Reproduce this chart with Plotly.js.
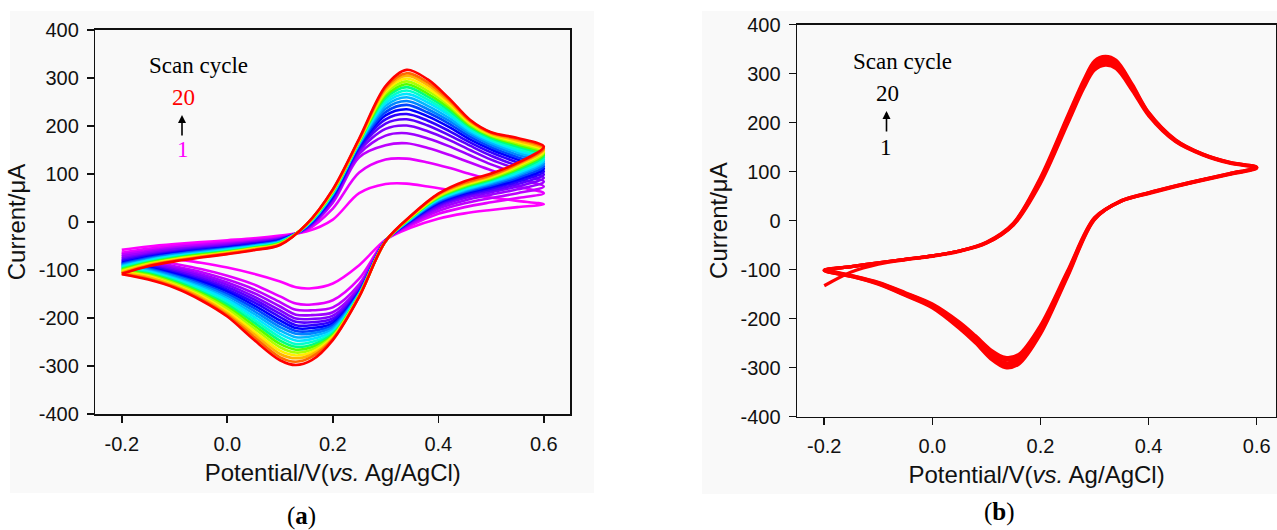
<!DOCTYPE html>
<html><head><meta charset="utf-8">
<script src="https://cdn.plot.ly/plotly-3.0.1.min.js"></script>
<style>html,body{margin:0;padding:0;background:#fff;overflow:hidden}#chart{width:1277px;height:530px}</style>
</head><body><div id="chart"></div>
<script>
// ---------- Panel (a): 20 scan cycles ----------
const potentialForwardA = [-0.2, -0.15, -0.1, -0.05, 0, 0.05, 0.1, 0.15, 0.2, 0.25, 0.3, 0.34, 0.38, 0.42, 0.46, 0.5, 0.55, 0.6];
const potentialReverseA = [0.55, 0.5, 0.45, 0.4, 0.35, 0.3, 0.25, 0.2, 0.16, 0.13, 0.1, 0.05, 0, -0.05, -0.1, -0.15, -0.2];

const cycle01 = [-58, -51, -46, -42, -38, -34, -28, -20, 5, 60, 79, 80, 74, 67, 58, 51, 44, 37, 31, 25, 18, 7, -11, -37, -90, -128, -138, -136, -124, -108, -95, -85, -77, -69, -64];
const cycle02 = [-64, -56, -50, -46, -41, -37, -31, -17, 28, 103, 130, 132, 124, 113, 100, 88, 74, 60, 50, 41, 31, 17, -6, -38, -118, -163, -172, -170, -155, -130, -112, -98, -87, -77, -68];
const cycle03 = [-68, -60, -53, -48, -44, -39, -33, -15, 40, 135, 160, 164, 154, 140, 124, 108, 90, 74, 60, 50, 39, 23, -3, -38, -130, -178, -184, -183, -167, -140, -120, -104, -92, -81, -72];
const cycle04 = [-72, -63, -56, -51, -46, -41, -34, -14, 45, 142, 180, 185, 174, 158, 139, 120, 101, 84, 68, 57, 45, 28, -1, -38, -136, -188, -194, -193, -176, -148, -126, -109, -96, -84, -76];
const cycle05 = [-76, -66, -58, -53, -48, -42, -35, -13, 48, 148, 194, 201, 189, 171, 150, 130, 110, 92, 74, 62, 50, 32, 1, -39, -140, -195, -202, -201, -184, -155, -131, -113, -99, -87, -79];
const cycle06 = [-79, -69, -61, -55, -50, -44, -36, -12, 50, 152, 205, 214, 201, 181, 159, 138, 117, 99, 79, 66, 54, 35, 3, -39, -143, -201, -209, -208, -191, -161, -136, -117, -102, -90, -82];
const cycle07 = [-82, -71, -63, -57, -52, -45, -37, -11, 52, 155, 214, 225, 211, 190, 166, 145, 124, 105, 84, 70, 57, 38, 4, -39, -145, -206, -215, -215, -198, -167, -141, -121, -105, -92, -85];
const cycle08 = [-85, -73, -65, -59, -53, -47, -38, -10, 54, 158, 222, 235, 220, 198, 172, 151, 130, 111, 88, 73, 60, 40, 5, -39, -147, -211, -221, -221, -205, -173, -145, -124, -108, -95, -87];
const cycle09 = [-87, -75, -67, -60, -55, -48, -39, -10, 56, 160, 229, 244, 228, 205, 178, 156, 135, 116, 92, 76, 62, 42, 6, -39, -148, -215, -227, -227, -212, -179, -150, -128, -111, -97, -89];
const cycle10 = [-89, -77, -68, -62, -56, -49, -40, -9, 57, 162, 236, 252, 235, 211, 183, 161, 140, 121, 96, 79, 64, 44, 7, -39, -149, -219, -232, -233, -219, -185, -154, -131, -113, -99, -91];
const cycle11 = [-91, -79, -70, -63, -57, -50, -41, -8, 59, 164, 242, 260, 242, 217, 187, 165, 145, 126, 99, 82, 66, 46, 8, -40, -150, -223, -238, -240, -226, -191, -159, -135, -116, -101, -93];
const cycle12 = [-93, -80, -71, -65, -58, -51, -42, -8, 60, 165, 248, 267, 249, 223, 191, 169, 149, 130, 102, 84, 68, 47, 9, -40, -151, -227, -244, -247, -233, -197, -163, -138, -118, -103, -95];
const cycle13 = [-95, -82, -73, -66, -60, -52, -42, -7, 61, 166, 253, 274, 255, 228, 195, 172, 153, 134, 105, 86, 70, 49, 10, -40, -152, -230, -250, -254, -240, -203, -168, -142, -121, -105, -97];
const cycle14 = [-97, -84, -74, -67, -61, -53, -43, -7, 62, 167, 258, 281, 261, 233, 198, 175, 157, 138, 108, 88, 72, 50, 11, -40, -152, -233, -256, -260, -247, -209, -172, -145, -123, -107, -99];
const cycle15 = [-99, -85, -76, -68, -62, -54, -44, -6, 63, 168, 263, 287, 267, 238, 201, 178, 161, 142, 111, 90, 74, 52, 11, -40, -153, -236, -261, -266, -254, -215, -177, -148, -126, -109, -101];
const cycle16 = [-101, -87, -77, -70, -63, -55, -45, -6, 64, 169, 268, 293, 273, 243, 204, 180, 164, 145, 114, 92, 76, 53, 12, -40, -154, -238, -266, -272, -261, -221, -181, -151, -128, -111, -103];
const cycle17 = [-103, -88, -78, -71, -64, -56, -46, -6, 65, 170, 272, 299, 279, 247, 207, 182, 167, 148, 117, 94, 78, 55, 13, -40, -154, -240, -271, -278, -268, -227, -186, -154, -131, -113, -105];
const cycle18 = [-105, -89, -80, -72, -65, -57, -46, -5, 66, 171, 276, 305, 285, 251, 209, 184, 170, 151, 119, 96, 80, 56, 14, -40, -155, -242, -276, -284, -275, -233, -190, -157, -133, -115, -107];
const cycle19 = [-107, -91, -81, -73, -66, -58, -47, -5, 67, 172, 280, 310, 291, 255, 211, 186, 173, 154, 121, 98, 82, 58, 14, -40, -155, -244, -281, -291, -282, -239, -194, -160, -135, -118, -108];
const cycle20 = [-108, -92, -82, -74, -67, -59, -48, -5, 68, 174, 283, 317, 297, 258, 213, 187, 175, 157, 123, 101, 85, 59, 15, -40, -156, -246, -288, -298, -288, -245, -197, -163, -137, -120, -109];

const cyclesA = [cycle01, cycle02, cycle03, cycle04, cycle05, cycle06, cycle07, cycle08, cycle09, cycle10,
                 cycle11, cycle12, cycle13, cycle14, cycle15, cycle16, cycle17, cycle18, cycle19, cycle20];
const cycleColorsA = ['#ff00ff', '#e600ff', '#bf00ff', '#9f00ff', '#8000ff', '#5a00ff', '#2e00ff', '#0000ff', '#0044ff', '#0084ff',
                      '#00b8ff', '#00e6ff', '#00ffcc', '#00ff80', '#55ff00', '#aaff00', '#ffee00', '#ffb400', '#ff6a00', '#ff0000'];

// ---------- Panel (b): 20 nearly overlapping scan cycles (band read at cycles 1, 5, 10, 15, 20) ----------
const potentialForwardB = [-0.2, -0.15, -0.1, -0.05, 0, 0.05, 0.1, 0.15, 0.2, 0.25, 0.28, 0.3, 0.32, 0.34, 0.37, 0.4, 0.45, 0.5, 0.55, 0.6];
const potentialReverseB = [0.55, 0.5, 0.45, 0.4, 0.35, 0.3, 0.25, 0.2, 0.16, 0.135, 0.11, 0.08, 0.05, 0, -0.05, -0.1, -0.15, -0.2];
const cycleB01 = [-133, -105, -89, -80, -73, -63, -46, -9, 76, 197, 270, 307, 317, 310, 265, 214, 161, 134, 117, 107, 94, 82, 69, 55, 40, 6, -103, -214, -273, -279, -265, -235, -207, -170, -147, -126, -112, -100];
const cycleB05 = [-101, -94, -87, -79, -72, -62, -46, -8, 79, 201, 275, 312, 322, 315, 269, 216, 162, 135, 118, 108, 95, 83, 70, 56, 40, 5, -106, -219, -278, -284, -270, -239, -211, -172, -148, -127, -112, -101];
const cycleB10 = [-101, -94, -86, -79, -72, -62, -45, -7, 82, 205, 279, 317, 327, 319, 272, 218, 163, 135, 118, 108, 95, 83, 70, 56, 40, 4, -109, -223, -283, -290, -275, -243, -214, -174, -150, -128, -113, -101];
const cycleB15 = [-102, -94, -86, -79, -72, -62, -45, -6, 85, 209, 283, 322, 331, 323, 275, 220, 164, 136, 119, 109, 96, 84, 71, 57, 41, 3, -112, -228, -288, -295, -280, -247, -217, -176, -152, -129, -114, -102];
const cycleB20 = [-102, -94, -86, -79, -72, -62, -44, -5, 88, 213, 287, 326, 335, 327, 278, 221, 165, 136, 119, 109, 96, 84, 71, 57, 41, 2, -115, -232, -293, -300, -284, -250, -220, -178, -153, -130, -114, -102];
const cyclesB = [cycleB01, cycleB05, cycleB10, cycleB15, cycleB20];

// ---------- Ticks / labels ----------
const xTickVals = [-0.2, 0, 0.2, 0.4, 0.6];
const xTickText = ['-0.2', '0.0', '0.2', '0.4', '0.6'];
const yTickVals = [-400, -300, -200, -100, 0, 100, 200, 300, 400];
const yTickText = ['-400', '-300', '-200', '-100', '0', '100', '200', '300', '400'];
const xTitle = 'Potential/V(<i>vs.</i> Ag/AgCl)';
const yTitle = 'Current/\u03bcA';

const W = 1277, H = 530;
const px = v => v / W;
const py = v => 1 - v / H;

const potA = potentialForwardA.concat(potentialReverseA);
const potB = potentialForwardB.concat(potentialReverseB);

const traces = [];
cyclesA.forEach((ys, i) => {
  traces.push({x: potA, y: ys, type: 'scatter', mode: 'lines', xaxis: 'x', yaxis: 'y',
    line: {color: cycleColorsA[i], width: 2.6, shape: 'spline', smoothing: 0.9},
    name: 'Cycle ' + (i + 1), showlegend: false, hoverinfo: 'skip'});
});
cyclesB.forEach((ys, i) => {
  traces.push({x: potB, y: ys, type: 'scatter', mode: 'lines', xaxis: 'x2', yaxis: 'y2',
    line: {color: '#ff0000', width: 3.2, shape: 'spline', smoothing: 0.9},
    showlegend: false, hoverinfo: 'skip'});
});

const tickFont = {family: 'Liberation Sans, Arial, sans-serif', size: 20, color: '#111'};
const titleFont = {family: 'Liberation Sans, Arial, sans-serif', size: 24, color: '#111'};
function xAxis(domain, range, anchor) {
  return {domain, range, anchor, showline: true, linecolor: '#111', linewidth: 1.6, mirror: true,
    ticks: 'outside', ticklen: 7, tickwidth: 1.6, tickcolor: '#111', tickvals: xTickVals, ticktext: xTickText,
    tickfont: tickFont, showgrid: false, zeroline: false, automargin: false, ticklabelstandoff: 4,
    title: {text: xTitle, font: titleFont, standoff: 10}};
}
function yAxis(domain, anchor) {
  return {domain, range: [-400, 400], anchor, showline: true, linecolor: '#111', linewidth: 1.6, mirror: true,
    ticks: 'outside', ticklen: 7, tickwidth: 1.6, tickcolor: '#111', tickvals: yTickVals, ticktext: yTickText,
    tickfont: tickFont, showgrid: false, zeroline: false, automargin: false, ticklabelstandoff: 4,
    title: {text: yTitle, font: titleFont, standoff: 6}};
}

const serif = 'Liberation Serif, Times New Roman, serif';
const ann = (x, y, text, size, color, extra) => Object.assign({xref: 'paper', yref: 'paper', x: px(x), y: py(y), text,
  showarrow: false, xanchor: 'center', yanchor: 'middle', font: {family: serif, size, color}}, extra || {});
const arrow = (x, yHead, yTail) => ({xref: 'paper', yref: 'paper', x: px(x), y: py(yHead), text: '', showarrow: true,
  ax: 0, ay: yTail - yHead, arrowhead: 2, arrowsize: 1, arrowwidth: 1.6, arrowcolor: '#000'});

const layout = {
  width: W, height: H, margin: {l: 0, r: 0, t: 0, b: 0},
  paper_bgcolor: '#ffffff', plot_bgcolor: 'rgba(0,0,0,0)', showlegend: false,
  xaxis: xAxis([px(95.4), px(570.2)], [-0.25, 0.65], 'y'),
  yaxis: yAxis([py(414), py(30)], 'x'),
  xaxis2: xAxis([px(797.2), px(1276)], [-0.25, 0.6357], 'y2'),
  yaxis2: yAxis([py(416.6), py(24.6)], 'x2'),
  shapes: [
    {type: 'rect', xref: 'paper', yref: 'paper', x0: px(10), x1: px(594), y0: py(493), y1: py(11), fillcolor: '#f9f9f9', line: {width: 0}, layer: 'below'},
    {type: 'rect', xref: 'paper', yref: 'paper', x0: px(702), x1: 1, y0: py(494), y1: py(11), fillcolor: '#f9f9f9', line: {width: 0}, layer: 'below'}
  ],
  annotations: [
    ann(198, 66, 'Scan cycle', 23, '#000'),
    ann(183.5, 98, '20', 23, '#ff0000'),
    arrow(182, 115, 137),
    ann(183, 150, '1', 23, '#ff00ff'),
    ann(902.5, 62, 'Scan cycle', 23, '#000'),
    ann(887, 93.5, '20', 23, '#000'),
    arrow(886.5, 111, 133),
    ann(886, 147, '1', 23, '#000'),
    ann(301, 516, '(<b>a</b>)', 25, '#000'),
    ann(999, 512, '(<b>b</b>)', 25, '#000')
  ]
};

Plotly.newPlot('chart', traces, layout, {displayModeBar: false, staticPlot: true});
</script></body></html>
